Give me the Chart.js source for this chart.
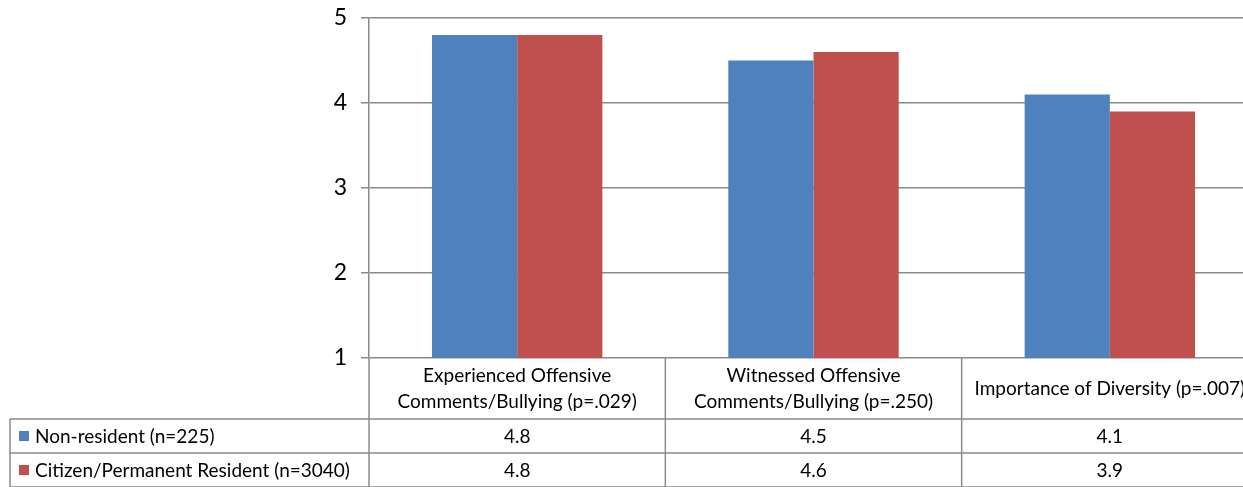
<!DOCTYPE html>
<html>
<head>
<meta charset="utf-8">
<script src="https://cdn.jsdelivr.net/npm/chart.js@4"></script>
<style>
  html, body { margin: 0; padding: 0; background: #fff; overflow: hidden; width: 1243px; height: 487px; }
  #wrap { width: 1243px; height: 487px; overflow: hidden; }
  canvas { display: block; }
</style>
</head>
<body>
<div id="wrap"><canvas id="chart" width="1258" height="487"></canvas></div>
<script>
// categories (two-line headers for the data table) and the two groups
const categories = [
  ["Experienced Offensive", "Comments/Bullying (p=.029)"],
  ["Witnessed Offensive", "Comments/Bullying (p=.250)"],
  ["Importance of Diversity (p=.007)"]
];
const seriesNames = ["Non-resident (n=225)", "Citizen/Permanent Resident (n=3040)"];
const nonResident = [4.8, 4.5, 4.1];
const citizen = [4.8, 4.6, 3.9];
const yTicks = [1, 2, 3, 4, 5];

const colors = ["#4F81BD", "#C0504D"];
const lineColor = "#8a8a8a";
const font = "Lato, 'Open Sans', sans-serif";

// draws the data table under the plot, columns taken from the x scale
const dataTable = {
  id: "dataTable",
  afterDraw(chart) {
    const ctx = chart.ctx;
    const x = chart.scales.x;
    const area = chart.chartArea;
    const half = (x.getPixelForValue(1) - x.getPixelForValue(0)) / 2;
    const top = area.bottom;
    const row1 = top + 61, row2 = row1 + 34, row3 = row2 + 34;
    const left = 10;
    const right = chart.width;

    ctx.save();
    ctx.strokeStyle = lineColor;
    ctx.lineWidth = 1.5;
    ctx.beginPath();
    // horizontal rules
    ctx.moveTo(left, row1); ctx.lineTo(right, row1);
    ctx.moveTo(left, row2); ctx.lineTo(right, row2);
    ctx.moveTo(left, row3); ctx.lineTo(right, row3);
    // verticals
    ctx.moveTo(left, row1); ctx.lineTo(left, row3);
    categories.forEach((c, i) => {
      const cx = x.getPixelForValue(i);
      const l = cx - half, r = cx + half;
      ctx.moveTo(l, top); ctx.lineTo(l, row3);
      ctx.moveTo(r, top); ctx.lineTo(r, row3);
    });
    ctx.stroke();

    ctx.fillStyle = "#000";
    ctx.font = "19px " + font;
    ctx.textAlign = "center";
    ctx.textBaseline = "middle";
    categories.forEach((lines, i) => {
      const cx = x.getPixelForValue(i);
      const mid = (top + row1) / 2;
      const lh = 26;
      lines.forEach((t, k) => {
        ctx.fillText(t, cx, mid + (k - (lines.length - 1) / 2) * lh);
      });
      ctx.fillText(nonResident[i].toFixed(1), cx, (row1 + row2) / 2 + 1);
      ctx.fillText(citizen[i].toFixed(1), cx, (row2 + row3) / 2 + 1);
    });

    // series keys
    ctx.textAlign = "left";
    [row1, row2].forEach((ry, k) => {
      const cy = ry + 17;
      ctx.fillStyle = colors[k];
      ctx.fillRect(19, cy - 5, 10, 10);
      ctx.fillStyle = "#000";
      ctx.fillText(seriesNames[k], 35, cy + 1);
    });
    ctx.restore();
  }
};

new Chart(document.getElementById("chart"), {
  type: "bar",
  data: {
    labels: categories,
    datasets: [
      { label: seriesNames[0], data: nonResident, backgroundColor: colors[0] },
      { label: seriesNames[1], data: citizen, backgroundColor: colors[1] }
    ]
  },
  options: {
    responsive: false,
    animation: false,
    devicePixelRatio: 1,
    layout: { padding: { top: 18, bottom: 129, left: 0, right: 0 } },
    datasets: { bar: { categoryPercentage: 0.575, barPercentage: 1, borderWidth: 0 } },
    plugins: { legend: { display: false }, tooltip: { enabled: false } },
    scales: {
      x: { display: false },
      y: {
        min: 1, max: 5,
        afterFit: s => { s.width = 369; s.paddingTop = 0; s.paddingBottom = 0; },
        afterBuildTicks: s => { s.ticks = yTicks.map(v => ({ value: v })); },
        ticks: { color: "#000", padding: 14, font: { family: font, size: 23 } },
        grid: { color: lineColor, lineWidth: 1.5, tickLength: 8 },
        border: { color: lineColor, width: 1.5 }
      }
    }
  },
  plugins: [dataTable]
});
</script>
</body>
</html>
